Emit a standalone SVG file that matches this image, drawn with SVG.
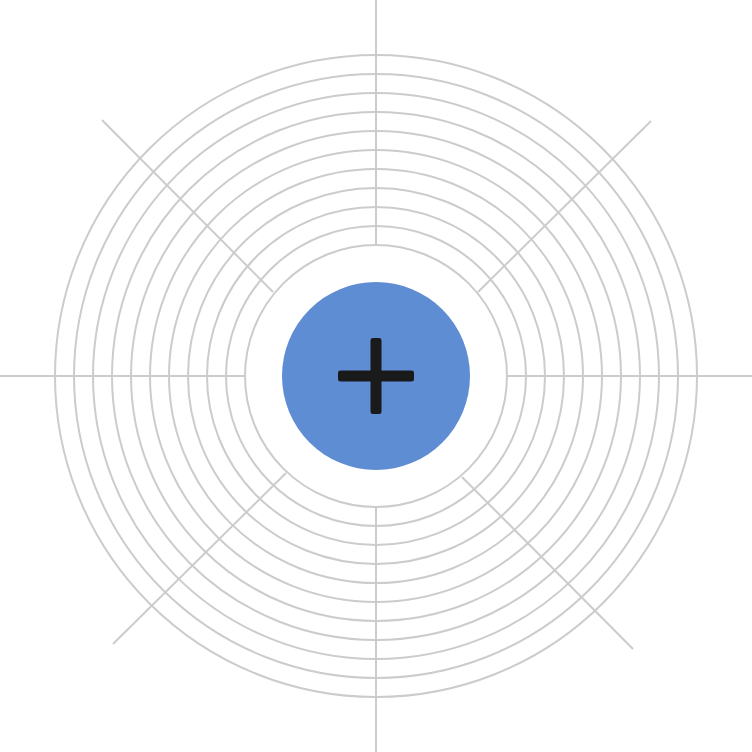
<svg xmlns="http://www.w3.org/2000/svg" width="752" height="752" viewBox="0 0 752 752">
<style>
.ring{fill:none;stroke:#cccccc;stroke-width:2}
.spoke{stroke:#cccccc;stroke-width:2;fill:none}
.hub{fill:#5e8dd4}
.plus{fill:#1a1a1a}
</style>
<rect width="752" height="752" fill="#ffffff"/>
<g id="rings">
<circle class="ring" cx="376" cy="376" r="131"/>
<circle class="ring" cx="376" cy="376" r="150"/>
<circle class="ring" cx="376" cy="376" r="169"/>
<circle class="ring" cx="376" cy="376" r="188"/>
<circle class="ring" cx="376" cy="376" r="207"/>
<circle class="ring" cx="376" cy="376" r="226"/>
<circle class="ring" cx="376" cy="376" r="245"/>
<circle class="ring" cx="376" cy="376" r="264"/>
<circle class="ring" cx="376" cy="376" r="283"/>
<circle class="ring" cx="376" cy="376" r="302"/>
<circle class="ring" cx="376" cy="376" r="321"/>
</g>
<g id="connectors">
<line class="spoke" x1="376" y1="0" x2="376" y2="245"/>
<line class="spoke" x1="376" y1="507" x2="376" y2="752"/>
<line class="spoke" x1="0" y1="376" x2="245" y2="376"/>
<line class="spoke" x1="507" y1="376" x2="752" y2="376"/>
<line class="spoke" x1="102" y1="120" x2="273" y2="292"/>
<line class="spoke" x1="651" y1="121" x2="478" y2="292"/>
<line class="spoke" x1="113" y1="644" x2="286" y2="473"/>
<line class="spoke" x1="462" y1="477" x2="633" y2="649"/>
</g>
<g id="hub">
<circle class="hub" cx="376" cy="376" r="94"/>
<rect class="plus" x="338" y="370.5" width="76" height="11" rx="2.5"/>
<rect class="plus" x="370.5" y="338" width="11" height="76" rx="2.5"/>
</g>
</svg>
